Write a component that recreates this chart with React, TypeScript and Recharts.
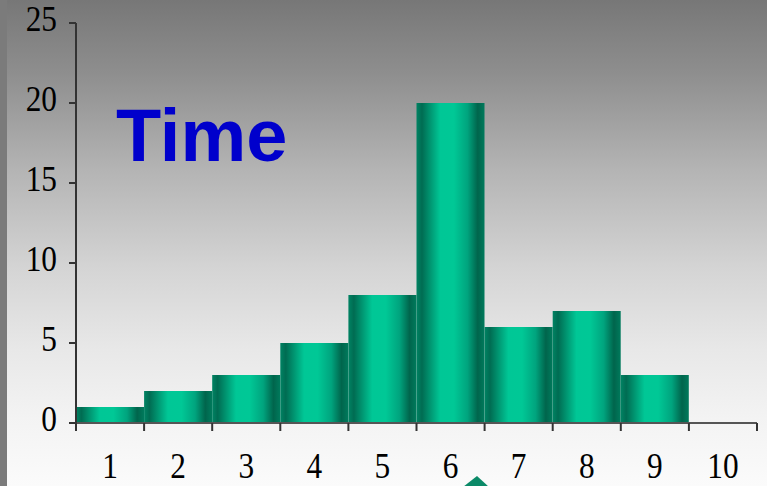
import React from 'react';
import { BarChart, Bar, XAxis, YAxis, Customized } from 'recharts';

const categories = ['1', '2', '3', '4', '5', '6', '7', '8', '9', '10'];
const values = [1, 2, 3, 5, 8, 20, 6, 7, 3, 0];
const yTicks = [0, 5, 10, 15, 20, 25];
const title = 'Time';

const data = categories.map((c, i) => ({ name: c, value: values[i] }));

const FONT = '"Liberation Serif", "Times New Roman", serif';

const XTick = (props: any) => {
  const { x, y, payload, index } = props;
  const off = payload && payload.offset ? payload.offset : 0;
  const last = index === categories.length - 1;
  return (
    <g>
      <line x1={x - off} y1={y} x2={x - off} y2={y + 8} stroke="#333" strokeWidth={2} />
      {last && <line x1={x + off} y1={y} x2={x + off} y2={y + 8} stroke="#333" strokeWidth={2} />}
      <text
        transform={`translate(${x},${y + 55}) scale(0.87,1)`}
        textAnchor="middle"
        fontFamily={FONT}
        fontSize={36}
        fill="#000"
      >
        {payload.value}
      </text>
    </g>
  );
};

const YTick = (props: any) => {
  const { x, y, payload } = props;
  return (
    <text
      transform={`translate(${x},${y + 8}) scale(0.87,1)`}
      textAnchor="end"
      fontFamily={FONT}
      fontSize={36}
      fill="#000"
    >
      {payload.value}
    </text>
  );
};

const Overlay = () => (
  <g>
    <text
      x={116}
      y={161}
      fontFamily='"Liberation Sans", Arial, sans-serif'
      fontWeight="bold"
      fontSize={74}
      fill="#0000CC"
    >
      {title}
    </text>
    <polygon points="463,487 477,476 489,487" fill="#0b8a68" />
  </g>
);

export default function App() {
  return (
    <div
      style={{
        position: 'fixed',
        left: 0,
        top: 0,
        width: 767,
        height: 486,
        background:
          'linear-gradient(to right, #7b7b7b 0px, #7b7b7b 7px, transparent 7px), linear-gradient(to bottom, #777777 0%, #8e8e8e 15%, #b4b4b4 35%, #d4d4d4 55%, #e8e8e8 72%, #f3f3f3 86%, #fbfbfb 100%)',
      }}
    >
      <BarChart
        width={767}
        height={486}
        data={data}
        margin={{ top: 23, right: 10, bottom: 0, left: 0 }}
        barCategoryGap={0}
        barGap={0}
      >
        <defs>
          <linearGradient id="barGrad" x1="0" y1="0" x2="1" y2="0">
            <stop offset="0%" stopColor="#008363" />
            <stop offset="8%" stopColor="#006c52" />
            <stop offset="35%" stopColor="#00c796" />
            <stop offset="55%" stopColor="#00c896" />
            <stop offset="75%" stopColor="#00a47e" />
            <stop offset="90%" stopColor="#00654c" />
            <stop offset="100%" stopColor="#007a5c" />
          </linearGradient>
        </defs>
        <XAxis
          dataKey="name"
          type="category"
          interval={0}
          tickLine={false}
          tickSize={0}
          tickMargin={0}
          height={63}
          axisLine={{ stroke: '#555', strokeWidth: 2 }}
          tick={<XTick />}
        />
        <YAxis
          type="number"
          domain={[0, 25]}
          ticks={yTicks}
          interval={0}
          width={76}
          tickSize={7}
          tickMargin={12}
          axisLine={{ stroke: '#333', strokeWidth: 2 }}
          tickLine={{ stroke: '#333', strokeWidth: 2 }}
          tick={<YTick />}
        />
        <Bar dataKey="value" fill="url(#barGrad)" isAnimationActive={false} />
        <Customized component={Overlay} />
      </BarChart>
    </div>
  );
}
